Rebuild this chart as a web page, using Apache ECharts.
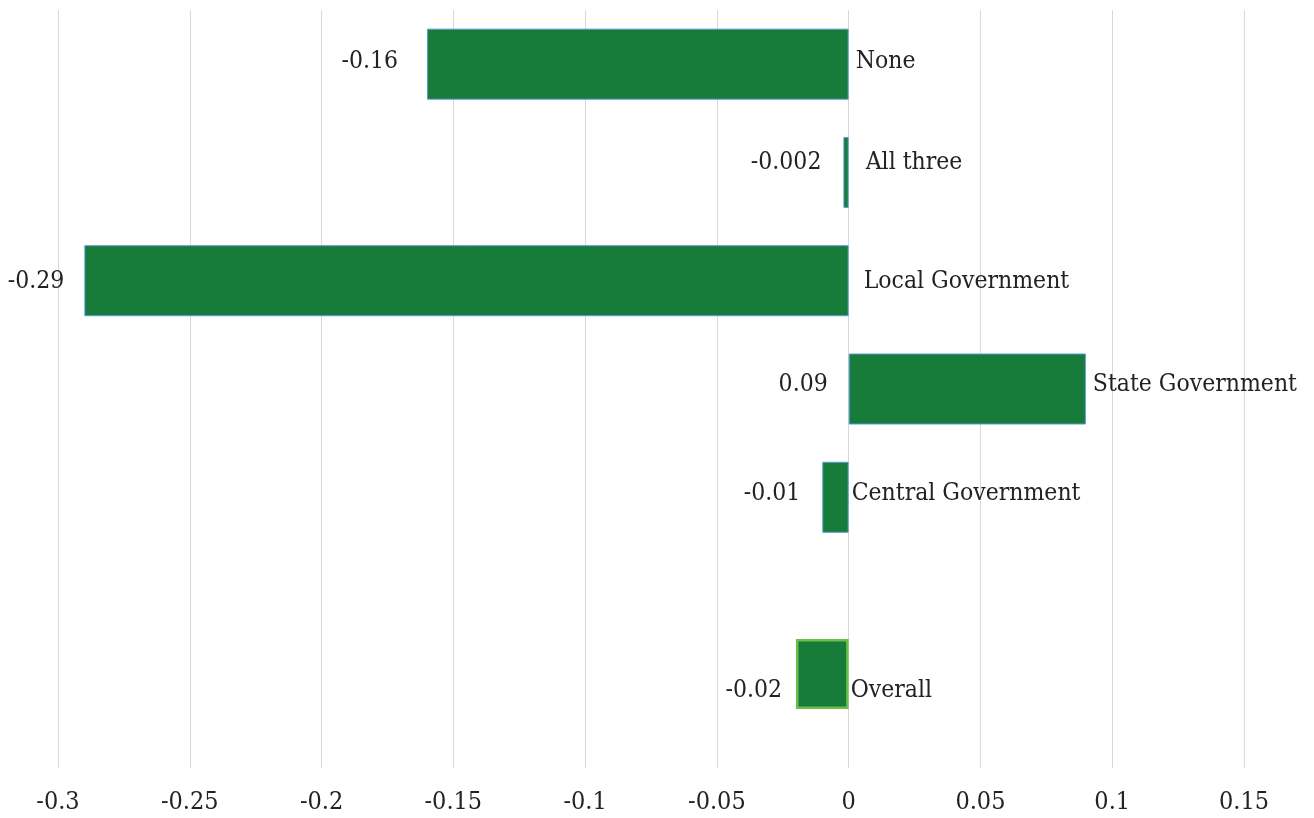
<!DOCTYPE html>
<html><head><meta charset="utf-8">
<script src="https://cdn.jsdelivr.net/npm/echarts@6/dist/echarts.min.js"></script>
<style>html,body{margin:0;padding:0;background:#fff}#c{width:1314px;height:818px}</style>
</head><body><div id="c"></div>
<script>
// ---- data ----
const categories = ['None', 'All three', 'Local Government', 'State Government', 'Central Government'];
const values = [-0.16, -0.002, -0.29, 0.09, -0.01];
const overallCategories = ['Overall'];
const overallValues = [-0.02];
const xMin = -0.3, xMax = 0.15, xStep = 0.05;

// ---- styling (label nudges, not data) ----
const FONT = 'DejaVu Serif Condensed';
const TXT = '#222222';
const valueLabelNudge = [-3, -10, 1, -4, -4];
const valueLabelGap = [29, 22, 20, 21, 22];
const nameLabelGap = [7, 17, 15, 7, 3];
const overallValueNudge = [17];
const overallValueGap = [14];
const overallNameGap = [2];

function labelText(v) { return String(v); }

function mainItems(vals, nudges, gaps) {
  return vals.map((v, i) => ({ value: v, label: { offset: [0, nudges[i]], distance: gaps[i] } }));
}

const chart = echarts.init(document.getElementById('c'));
const grid0 = { left: 58, right: 70, top: 10, bottom: 50 };
const grid1 = { left: 58, right: 70, top: 620, height: 108 };

const baseLabel = { show: true, fontFamily: FONT, fontSize: 24.5, color: TXT };

chart.setOption({
  animation: false,
  backgroundColor: '#ffffff',
  grid: [grid0, grid1],
  xAxis: [
    {
      type: 'value', gridIndex: 0, min: xMin, max: xMax, interval: xStep,
      axisLine: { show: false }, axisTick: { show: false },
      splitLine: { show: true, lineStyle: { color: '#d9d9d9', width: 1 } },
      axisLabel: {
        margin: 22, fontFamily: FONT, fontSize: 25, color: TXT,
        formatter: v => String(parseFloat(v.toFixed(2)))
      }
    },
    {
      type: 'value', gridIndex: 1, min: xMin, max: xMax, show: false,
      splitLine: { show: false }
    }
  ],
  yAxis: [
    { type: 'category', gridIndex: 0, data: categories, inverse: true, max: 6, show: false },
    { type: 'category', gridIndex: 1, data: overallCategories, inverse: true, show: false }
  ],
  series: [
    {
      type: 'bar', xAxisIndex: 0, yAxisIndex: 0, barWidth: 71, barGap: '-100%',
      data: mainItems(values, valueLabelNudge, valueLabelGap),
      itemStyle: { color: '#177b39', borderColor: '#5b9bd5', borderWidth: 1 },
      label: Object.assign({}, baseLabel, { position: 'left',
        formatter: p => labelText(values[p.dataIndex]) })
    },
    {
      type: 'bar', xAxisIndex: 0, yAxisIndex: 0, barWidth: 71, barGap: '-100%',
      data: mainItems(values, valueLabelNudge, nameLabelGap),
      itemStyle: { color: 'rgba(0,0,0,0)' },
      label: Object.assign({}, baseLabel, { position: 'right',
        formatter: p => categories[p.dataIndex] }),
      silent: true
    },
    {
      type: 'bar', xAxisIndex: 1, yAxisIndex: 1, barWidth: 70, barGap: '-100%',
      data: mainItems(overallValues, overallValueNudge, overallValueGap),
      itemStyle: { color: '#177b39', borderColor: '#6cc04a', borderWidth: 2.5 },
      label: Object.assign({}, baseLabel, { position: 'left',
        formatter: p => labelText(overallValues[p.dataIndex]) })
    },
    {
      type: 'bar', xAxisIndex: 1, yAxisIndex: 1, barWidth: 70, barGap: '-100%',
      data: mainItems(overallValues, overallValueNudge, overallNameGap),
      itemStyle: { color: 'rgba(0,0,0,0)' },
      label: Object.assign({}, baseLabel, { position: 'right',
        formatter: p => overallCategories[p.dataIndex] }),
      silent: true
    }
  ]
});
</script>
</body></html>
